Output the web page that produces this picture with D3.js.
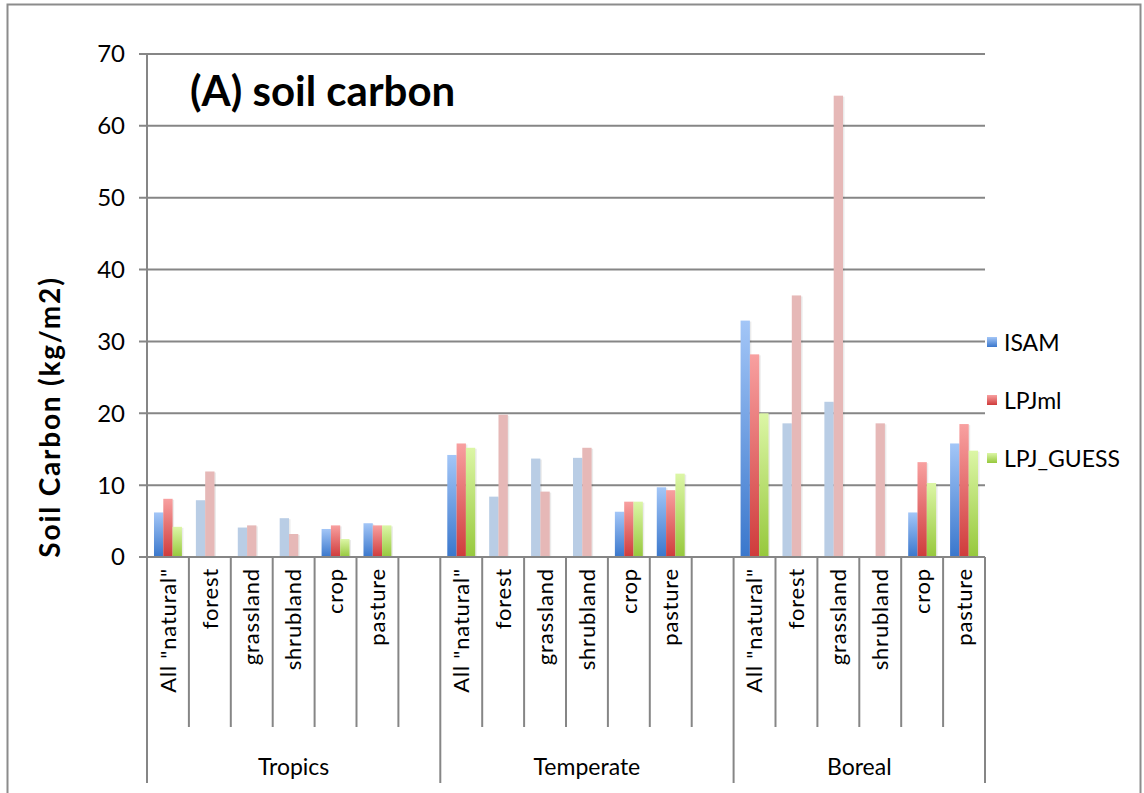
<!DOCTYPE html>
<html>
<head>
<meta charset="utf-8">
<title>Soil carbon</title>
<script src="https://cdn.jsdelivr.net/npm/d3@7"></script>
<style>
  body { margin: 0; background: #fff; }
  svg text { font-family: Lato, "Open Sans", sans-serif; fill: #000; }
</style>
</head>
<body>
<div id="chart"></div>
<script>
// data (kg/m2); null = no bar
const regions = ["Tropics", "Temperate", "Boreal"];
const landTypes = ['All "natural"', "forest", "grassland", "shrubland", "crop", "pasture"];
const fadedTypes = ["forest", "grassland", "shrubland"];
const seriesNames = ["ISAM", "LPJml", "LPJ_GUESS"];
const yTicks = [0, 10, 20, 30, 40, 50, 60, 70];

const isam = [
  6.2, 7.9, 4.1, 5.4, 3.9, 4.7,
  14.2, 8.4, 13.7, 13.8, 6.3, 9.7,
  32.9, 18.6, 21.6, null, 6.2, 15.8
];
const lpjml = [
  8.1, 11.9, 4.4, 3.2, 4.4, 4.4,
  15.8, 19.8, 9.1, 15.2, 7.7, 9.3,
  28.2, 36.4, 64.2, 18.6, 13.2, 18.5
];
const lpjGuess = [
  4.2, null, null, null, 2.5, 4.4,
  15.2, null, null, null, 7.7, 11.6,
  20.0, null, null, null, 10.3, 14.8
];

const W = 1144, H = 793;
const plotL = 147, plotR = 985, plotT = 54, plotB = 557;

const svg = d3.select("#chart").append("svg")
  .attr("width", W).attr("height", H);

// gradients like the old office bars
const defs = svg.append("defs");
const grad = [
  ["g0", "#a3c6f7", "#3a77cc"],
  ["g1", "#f8a0a0", "#cf3b3b"],
  ["g2", "#dcf6a6", "#96c83c"]
];
grad.forEach(([id, a, b]) => {
  const lg = defs.append("linearGradient").attr("id", id)
    .attr("x1", 0).attr("y1", 0).attr("x2", 0).attr("y2", 1);
  lg.append("stop").attr("offset", "0%").attr("stop-color", a);
  lg.append("stop").attr("offset", "100%").attr("stop-color", b);
});
const fadedFill = ["#b9cde5", "#e6b8b7", "#d7e4bd"];

// outer frame
svg.append("rect")
  .attr("x", 7.5).attr("y", 4.5).attr("width", 1133).attr("height", 800)
  .attr("fill", "none").attr("stroke", "#8c8c8c").attr("stroke-width", 2);

// slots: each region has 6 types, plus an empty slot after the first two regions
const slots = [];
regions.forEach((r, ri) => {
  landTypes.forEach((t, ti) => slots.push({ key: r + "|" + t, region: r, type: t, idx: ri * 6 + ti }));
  if (ri < regions.length - 1) slots.push({ key: r + "|gap", region: r, type: null, idx: -1 });
});

const x = d3.scaleBand().domain(slots.map(d => d.key)).range([plotL, plotR]);
const xs = d3.scaleBand().domain(seriesNames).range([0, x.bandwidth()]).paddingOuter(0.75);
const y = d3.scaleLinear().domain([0, 70]).range([plotB, plotT]);

// gridlines
svg.append("g").selectAll("line").data(yTicks).join("line")
  .attr("x1", plotL - 8).attr("x2", plotR)
  .attr("y1", d => y(d)).attr("y2", d => y(d))
  .attr("stroke", "#868686").attr("stroke-width", 2);

// y axis line
svg.append("line").attr("x1", plotL).attr("x2", plotL).attr("y1", plotT).attr("y2", plotB)
  .attr("stroke", "#868686").attr("stroke-width", 2);

svg.append("g").selectAll("text").data(yTicks).join("text")
  .attr("x", 125).attr("y", d => y(d)).attr("dy", "0.35em")
  .attr("text-anchor", "end").attr("font-size", 24)
  .text(d => d);

// bars
const series = [isam, lpjml, lpjGuess];
const barData = [];
slots.filter(s => s.type).forEach(s => {
  series.forEach((arr, si) => {
    const v = arr[s.idx];
    if (v == null) return;
    barData.push({ key: s.key, type: s.type, s: si, v });
  });
});

const bars = svg.append("g");
bars.selectAll("rect.shadow").data(barData).join("rect")
  .attr("class", "shadow")
  .attr("x", d => x(d.key) + xs(seriesNames[d.s]) + 1.5)
  .attr("y", d => y(d.v) + 1)
  .attr("width", xs.bandwidth())
  .attr("height", d => plotB - y(d.v) - 1)
  .attr("fill", "#000").attr("opacity", 0.08);
bars.selectAll("rect.bar").data(barData).join("rect")
  .attr("class", "bar")
  .attr("x", d => x(d.key) + xs(seriesNames[d.s]))
  .attr("y", d => y(d.v))
  .attr("width", xs.bandwidth())
  .attr("height", d => plotB - y(d.v))
  .attr("fill", d => fadedTypes.includes(d.type) ? fadedFill[d.s] : `url(#g${d.s})`);

// category axis
svg.append("line").attr("x1", plotL).attr("x2", plotR).attr("y1", plotB).attr("y2", plotB)
  .attr("stroke", "#868686").attr("stroke-width", 2);

const bounds = slots.map(s => x(s.key)).concat([plotR]);
const groupEdges = [0, 7, 14, 20].map(i => i < slots.length ? x(slots[i].key) : plotR);
svg.append("g").selectAll("line").data(bounds).join("line")
  .attr("x1", d => d).attr("x2", d => d)
  .attr("y1", plotB)
  .attr("y2", d => groupEdges.some(g => Math.abs(g - d) < 0.5) ? 783 : 727)
  .attr("stroke", "#868686").attr("stroke-width", 2);

svg.append("g").selectAll("text").data(slots.filter(s => s.type)).join("text")
  .attr("transform", d => `translate(${x(d.key) + x.bandwidth() / 2},568) rotate(-90)`)
  .attr("dy", "0.35em").attr("text-anchor", "end")
  .attr("font-size", 22).attr("letter-spacing", 0.8)
  .text(d => d.type);

svg.append("g").selectAll("text").data(regions).join("text")
  .attr("x", (d, i) => (groupEdges[i] + groupEdges[i + 1]) / 2)
  .attr("y", 767).attr("dy", "0.35em").attr("text-anchor", "middle")
  .attr("font-size", 23)
  .text(d => d);

// axis title
svg.append("text")
  .attr("transform", "translate(50,417) rotate(-90)")
  .attr("dy", "0.35em").attr("text-anchor", "middle")
  .attr("font-size", 28).attr("font-weight", "bold").attr("letter-spacing", 1.8)
  .text("Soil Carbon (kg/m2)");

// panel title
svg.append("text")
  .attr("x", 190).attr("y", 106)
  .attr("font-size", 42).attr("font-weight", "bold")
  .text("(A) soil carbon");

// legend
const legend = svg.append("g").selectAll("g").data(seriesNames).join("g")
  .attr("transform", (d, i) => `translate(987,${[343, 401, 459][i]})`);
legend.append("rect").attr("x", 0).attr("y", -6).attr("width", 10).attr("height", 10)
  .attr("fill", (d, i) => `url(#g${i})`);
legend.append("text").attr("x", 17).attr("dy", "0.35em")
  .attr("font-size", 23)
  .text(d => d);
</script>
</body>
</html>
